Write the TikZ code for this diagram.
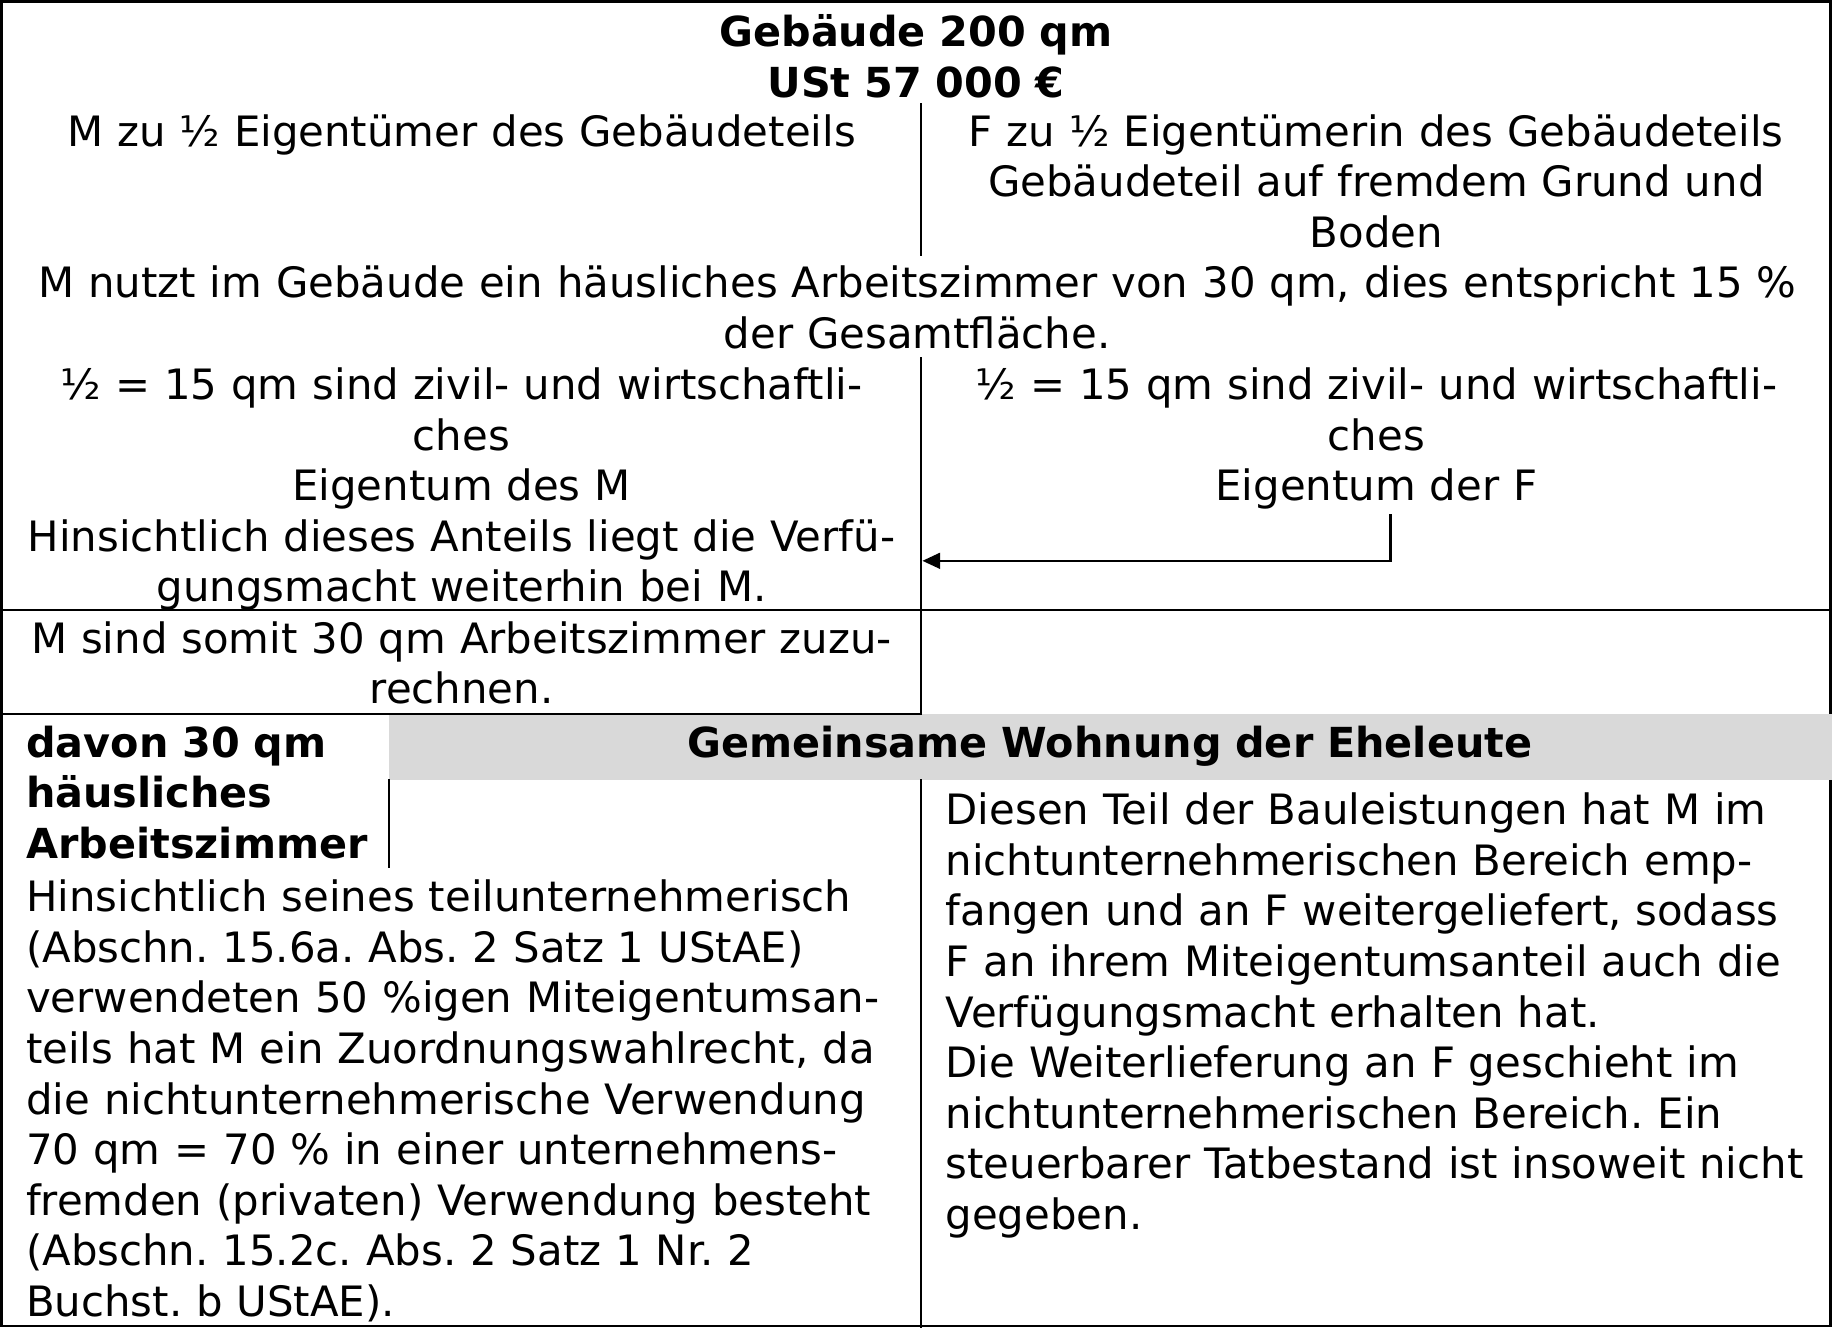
\documentclass[tikz,border=0pt]{standalone}
\usepackage{fontspec}
\setmainfont{DejaVu Sans}
\usetikzlibrary{arrows.meta}
\frenchspacing
\newcommand\regfont{\fontsize{17.9}{21.65}\selectfont\lineskiplimit=-\maxdimen\parindent=0pt\frenchspacing}
\newcommand\bldfont{\fontsize{17.7}{21.65}\selectfont\bfseries\lineskiplimit=-\maxdimen\parindent=0pt\frenchspacing}
\newcommand\tstrut{\rule{0pt}{17pt}}
\definecolor{bandgray}{HTML}{D9D9D9}
\begin{document}
\begin{tikzpicture}[x=0.5pt,y=-0.5pt,
  ctxt/.style={inner sep=0pt,anchor=north,text width=780pt,align=center,font=\regfont},
  ltxt/.style={inner sep=0pt,anchor=north west,text width=700pt,align=left,font=\regfont},
  cbold/.style={ctxt,font=\bldfont},
  lbold/.style={ltxt,font=\bldfont},
  gridline/.style={line width=0.85pt,line cap=rect},
  frameline/.style={line width=1.1pt,line cap=rect},
  arrowline/.style={line width=1pt,-{Triangle[length=7.6pt,width=6.8pt]}}]
\useasboundingbox (0,0) rectangle (1568,1136);
% frame
\draw[frameline] (1.2,1.2) -- (1566.8,1.2) -- (1566.8,611);
\draw[frameline] (1566.8,668) -- (1566.8,1134.8) -- (1.2,1134.8) -- (1.2,1.2);
% grey band
\fill[bandgray] (333,611) rectangle (1568,668);
% internal rules
\draw[gridline] (788,89) -- (788,218);
\draw[gridline] (788,306) -- (788,611);
\draw[gridline] (0,522.5) -- (1568,522.5);
\draw[gridline] (0,611) -- (788,611);
\draw[gridline] (333,668) -- (333,742);
\draw[gridline] (788,668) -- (788,1136);
% texts
\node[cbold] (title) at (784,5.7) {\tstrut Geb\"aude 200 qm\\USt 57 000 €};
\node[ctxt] (mleft) at (395,90.7) {\tstrut M zu ½ Eigentümer des Gebäudeteils};
\node[ctxt] (fright) at (1178,90.7) {\tstrut F zu ½ Eigentümerin des Gebäudeteils\\Gebäudeteil auf fremdem Grund und\\Boden};
\node[ctxt] (mnutzt) at (785,220.5) {\tstrut M nutzt im Gebäude ein häusliches Arbeitszimmer von 30 qm, dies entspricht 15 \%\\der Gesamtfläche.};
\node[ctxt] (halfleft) at (395,307.5) {\tstrut ½ = 15 qm sind zivil- und wirtschaftli-\\ches\\Eigentum des M\\Hinsichtlich dieses Anteils liegt die Verfü-\\gungsmacht weiterhin bei M.};
\node[ctxt] (halfright) at (1178,307.5) {\tstrut ½ = 15 qm sind zivil- und wirtschaftli-\\ches\\Eigentum der F};
\node[ctxt] (msind) at (395,524.5) {\tstrut M sind somit 30 qm Arbeitszimmer zuzu-\\rechnen.};
\node[lbold] (davon) at (22,613.5) {\tstrut davon 30 qm\\häusliches\\Arbeitszimmer};
\node[cbold] (wohnung) at (950,613.5) {\tstrut Gemeinsame Wohnung der Eheleute};
\node[ltxt] (leftbody) at (22,746) {\tstrut Hinsichtlich seines teilunternehmerisch\\(Abschn. 15.6a. Abs. 2 Satz 1 UStAE)\\verwendeten 50 \%igen Miteigentumsan-\\teils hat M ein Zuordnungswahlrecht, da\\die nichtunternehmerische Verwendung\\70 qm = 70 \% in einer unternehmens-\\fremden (privaten) Verwendung besteht\\(Abschn. 15.2c. Abs. 2 Satz 1 Nr. 2\\Buchst. b UStAE).};
\node[ltxt] (rightbody) at (809,671.5) {\tstrut Diesen Teil der Bauleistungen hat M im\\nichtunternehmerischen Bereich emp-\\fangen und an F weitergeliefert, sodass\\F an ihrem Miteigentumsanteil auch die\\Verfügungsmacht erhalten hat.\\Die Weiterlieferung an F geschieht im\\nichtunternehmerischen Bereich. Ein\\steuerbarer Tatbestand ist insoweit nicht\\gegeben.};
% arrow
\coordinate (arrstart) at (1190,440);
\coordinate (arrend) at (789.5,480);
\draw[arrowline] (arrstart) |- (arrend);
\end{tikzpicture}
\end{document}
